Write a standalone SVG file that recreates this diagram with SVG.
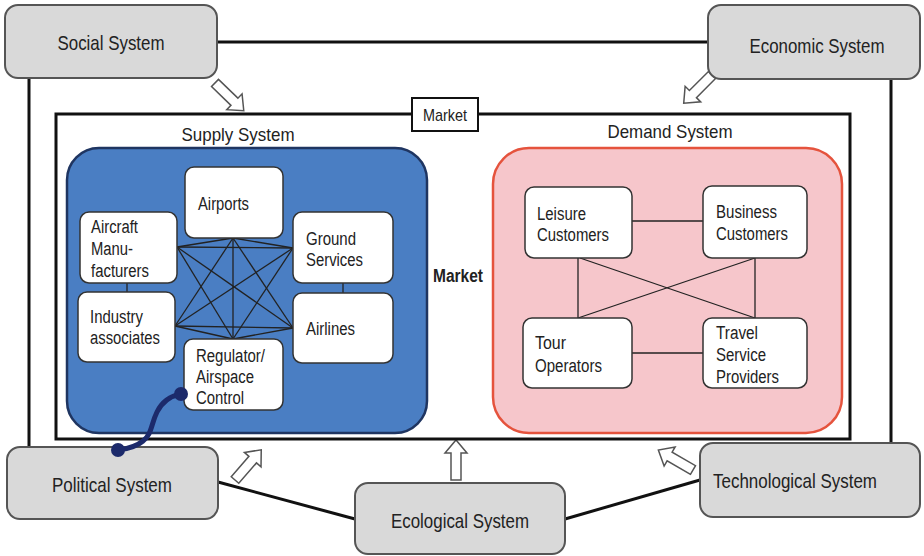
<svg xmlns="http://www.w3.org/2000/svg" xmlns:xlink="http://www.w3.org/1999/xlink" width="924" height="556" viewBox="0 0 924 556">
<style>
  text { font-family: "Liberation Sans", Arial, sans-serif; fill: #222; }
  .env rect { fill: #d9d9d9; stroke: #555; stroke-width: 2; }
  .env text { font-size: 21px; text-anchor: middle; }
  .sn rect { fill: #fff; stroke: #333; stroke-width: 1.5; }
  .sn text { font-size: 18px; }
  .title { font-size: 18.5px; }
  .thick { stroke: #111; stroke-width: 3; fill: none; }
  .thin { stroke: #222; stroke-width: 1.3; fill: none; }
  .arr { fill: #fff; stroke: #555; stroke-width: 1.5; stroke-linejoin: miter; }
</style>
<defs>
  <path id="arrow" d="M0,-5 L27,-5 L27,-11 L40,0 L27,11 L27,5 L0,5 Z"/>
</defs>
<rect width="924" height="556" fill="#fff"/>

<g id="connectors">
  <line class="thick" x1="217" y1="42" x2="708" y2="42"/>
  <line class="thick" x1="29" y1="78" x2="29" y2="447"/>
  <line class="thick" x1="891" y1="79" x2="891" y2="444"/>
  <line class="thick" x1="218" y1="482" x2="355" y2="519"/>
  <line class="thick" x1="565" y1="519" x2="700" y2="480"/>
  <use xlink:href="#arrow" class="arr" transform="translate(215,83) rotate(44)"/>
  <use xlink:href="#arrow" class="arr" transform="translate(712,75) rotate(135)"/>
  <use xlink:href="#arrow" class="arr" transform="translate(235,480) rotate(-49)"/>
  <use xlink:href="#arrow" class="arr" transform="translate(456,480) rotate(-90)"/>
  <use xlink:href="#arrow" class="arr" transform="translate(693,470) rotate(210)"/>
</g>

<g id="market">
  <rect x="56" y="114" width="794" height="325" fill="#fff" stroke="#111" stroke-width="3"/>
  <rect x="412" y="98" width="66" height="33" fill="#fff" stroke="#111" stroke-width="2"/>
  <text x="445" y="121" font-size="17" text-anchor="middle" textLength="44" lengthAdjust="spacingAndGlyphs">Market</text>
  <text x="458" y="282" font-size="17.5" font-weight="bold" text-anchor="middle" textLength="50" lengthAdjust="spacingAndGlyphs">Market</text>
</g>

<g id="supply-system">
  <text class="title" x="238" y="141" text-anchor="middle" textLength="113" lengthAdjust="spacingAndGlyphs">Supply System</text>
  <rect x="67" y="148" width="360" height="285" rx="32" fill="#4a7ec3" stroke="#1f3561" stroke-width="2.5"/>
  <g id="supply-links">
    <line class="thin" x1="127" y1="283" x2="127" y2="292"/>
    <line class="thin" x1="343" y1="283" x2="343" y2="293"/>
    <line class="thin" x1="233" y1="238" x2="177" y2="247"/>
    <line class="thin" x1="233" y1="238" x2="293" y2="248"/>
    <line class="thin" x1="233" y1="238" x2="175" y2="326"/>
    <line class="thin" x1="233" y1="238" x2="293" y2="328"/>
    <line class="thin" x1="233" y1="238" x2="233" y2="339"/>
    <line class="thin" x1="177" y1="247" x2="293" y2="248"/>
    <line class="thin" x1="177" y1="247" x2="293" y2="328"/>
    <line class="thin" x1="177" y1="247" x2="233" y2="339"/>
    <line class="thin" x1="293" y1="248" x2="175" y2="326"/>
    <line class="thin" x1="293" y1="248" x2="233" y2="339"/>
    <line class="thin" x1="175" y1="326" x2="293" y2="328"/>
    <line class="thin" x1="175" y1="326" x2="233" y2="339"/>
    <line class="thin" x1="293" y1="328" x2="233" y2="339"/>
  </g>
  <g id="airports" class="sn">
    <rect x="185" y="167" width="98" height="71" rx="9"/>
    <text x="198" y="210" textLength="51" lengthAdjust="spacingAndGlyphs">Airports</text>
  </g>
  <g id="aircraft-manufacturers" class="sn">
    <rect x="80" y="212" width="97" height="71" rx="9"/>
    <text x="91" y="233" textLength="47" lengthAdjust="spacingAndGlyphs">Aircraft</text>
    <text x="91" y="255" textLength="42" lengthAdjust="spacingAndGlyphs">Manu-</text>
    <text x="91" y="277" textLength="58" lengthAdjust="spacingAndGlyphs">facturers</text>
  </g>
  <g id="ground-services" class="sn">
    <rect x="293" y="212" width="100" height="71" rx="9"/>
    <text x="306" y="245" textLength="50" lengthAdjust="spacingAndGlyphs">Ground</text>
    <text x="306" y="266" textLength="57" lengthAdjust="spacingAndGlyphs">Services</text>
  </g>
  <g id="industry-associates" class="sn">
    <rect x="78" y="292" width="97" height="70" rx="9"/>
    <text x="90" y="323" textLength="53" lengthAdjust="spacingAndGlyphs">Industry</text>
    <text x="90" y="344" textLength="70" lengthAdjust="spacingAndGlyphs">associates</text>
  </g>
  <g id="airlines" class="sn">
    <rect x="293" y="293" width="100" height="70" rx="9"/>
    <text x="306" y="335" textLength="49" lengthAdjust="spacingAndGlyphs">Airlines</text>
  </g>
  <g id="regulator" class="sn">
    <rect x="184" y="339" width="99" height="71" rx="9"/>
    <text x="196" y="362" textLength="69" lengthAdjust="spacingAndGlyphs">Regulator/</text>
    <text x="196" y="383" textLength="58" lengthAdjust="spacingAndGlyphs">Airspace</text>
    <text x="196" y="404" textLength="48" lengthAdjust="spacingAndGlyphs">Control</text>
  </g>
</g>

<g id="demand-system">
  <text class="title" x="670" y="138" text-anchor="middle" textLength="125" lengthAdjust="spacingAndGlyphs">Demand System</text>
  <rect x="493" y="148" width="349" height="285" rx="36" fill="#f6c6cb" stroke="#e5533d" stroke-width="2.5"/>
  <g id="demand-links">
    <line class="thin" x1="632" y1="221" x2="703" y2="221"/>
    <line class="thin" x1="632" y1="353" x2="703" y2="353"/>
    <line class="thin" x1="578" y1="258" x2="578" y2="318"/>
    <line class="thin" x1="755" y1="258" x2="755" y2="318"/>
    <line class="thin" x1="580" y1="258" x2="755" y2="318"/>
    <line class="thin" x1="755" y1="258" x2="578" y2="318"/>
  </g>
  <g id="leisure-customers" class="sn">
    <rect x="525" y="187" width="107" height="71" rx="9"/>
    <text x="537" y="220" textLength="49" lengthAdjust="spacingAndGlyphs">Leisure</text>
    <text x="537" y="241" textLength="72" lengthAdjust="spacingAndGlyphs">Customers</text>
  </g>
  <g id="business-customers" class="sn">
    <rect x="703" y="186" width="104" height="72" rx="9"/>
    <text x="716" y="218" textLength="61" lengthAdjust="spacingAndGlyphs">Business</text>
    <text x="716" y="240" textLength="72" lengthAdjust="spacingAndGlyphs">Customers</text>
  </g>
  <g id="tour-operators" class="sn">
    <rect x="523" y="318" width="109" height="70" rx="9"/>
    <text x="535" y="349" textLength="31" lengthAdjust="spacingAndGlyphs">Tour</text>
    <text x="535" y="372" textLength="67" lengthAdjust="spacingAndGlyphs">Operators</text>
  </g>
  <g id="travel-service-providers" class="sn">
    <rect x="703" y="318" width="104" height="70" rx="9"/>
    <text x="716" y="339" textLength="42" lengthAdjust="spacingAndGlyphs">Travel</text>
    <text x="716" y="361" textLength="50" lengthAdjust="spacingAndGlyphs">Service</text>
    <text x="716" y="383" textLength="63" lengthAdjust="spacingAndGlyphs">Providers</text>
  </g>
</g>

<g id="social-system" class="env">
  <rect x="5" y="5" width="212" height="73" rx="13"/>
  <text x="111" y="50" textLength="107" lengthAdjust="spacingAndGlyphs">Social System</text>
</g>
<g id="economic-system" class="env">
  <rect x="708" y="5" width="212" height="74" rx="13"/>
  <text x="817" y="53" textLength="135" lengthAdjust="spacingAndGlyphs">Economic System</text>
</g>
<g id="political-system" class="env">
  <rect x="7" y="447" width="211" height="72" rx="13"/>
  <text x="112" y="492" textLength="120" lengthAdjust="spacingAndGlyphs">Political System</text>
</g>
<g id="ecological-system" class="env">
  <rect x="355" y="483" width="210" height="71" rx="13"/>
  <text x="460" y="528" textLength="138" lengthAdjust="spacingAndGlyphs">Ecological System</text>
</g>
<g id="technological-system" class="env">
  <rect x="700" y="443" width="220" height="74" rx="13"/>
  <text x="795" y="488" textLength="164" lengthAdjust="spacingAndGlyphs">Technological System</text>
</g>

<g id="political-link">
  <path d="M181,394 C170,396 162,402 157,412 C151,424 152,434 143,441 C136,447 126,449 118,450" fill="none" stroke="#1c2a6b" stroke-width="5" stroke-linecap="round"/>
  <circle cx="181" cy="394" r="7" fill="#1c2a6b"/>
  <circle cx="118" cy="450" r="7" fill="#1c2a6b"/>
</g>
</svg>
